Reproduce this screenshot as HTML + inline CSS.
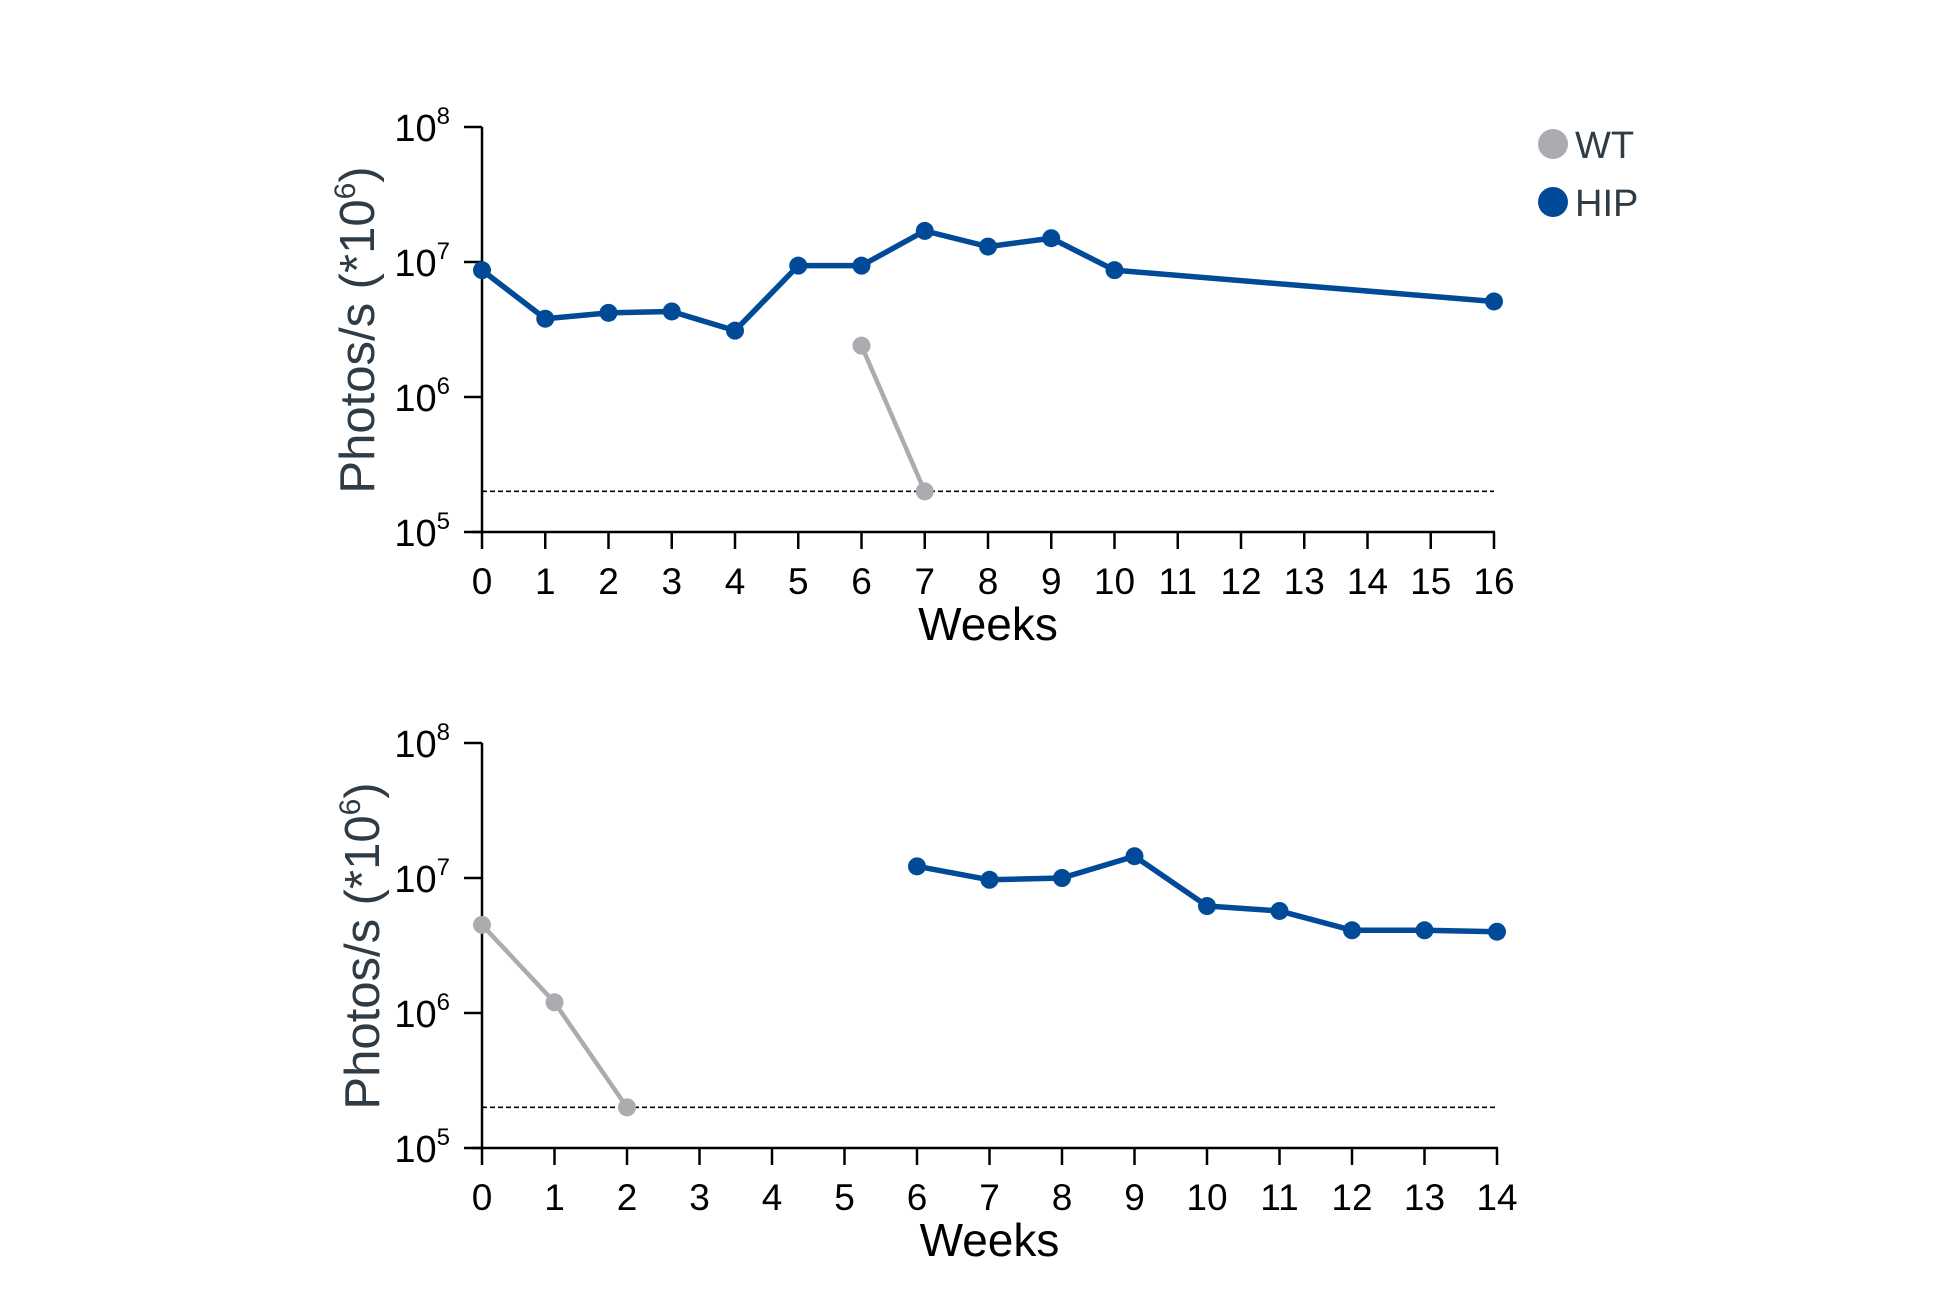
<!DOCTYPE html>
<html><head><meta charset="utf-8"><style>
body{margin:0;background:#fff;}
svg{display:block;font-family:"Liberation Sans",Arial,sans-serif;}
</style></head><body>
<svg id="s" width="1951" height="1313" viewBox="0 0 1951 1313">
<g id="top"></g>
<g id="bot"></g>
<g>
<g><circle cx="1553" cy="144" r="15" fill="#ababb0"/><text x="1575" y="158" font-size="38" fill="#2f3b45">WT</text></g>
<g><circle cx="1553" cy="202" r="15" fill="#004a97"/><text x="1575" y="216" font-size="38" fill="#2f3b45">HIP</text></g>
</g>
</svg>
<script>
const NS='http://www.w3.org/2000/svg';
// top panel data
const topTickLabels=['0','1','2','3','4','5','6','7','8','9','10','11','12','13','14','15','16'];
const topHipX=[0,1,2,3,4,5,6,7,8,9,10,16];
const topHipY=[8.7e6,3.8e6,4.2e6,4.3e6,3.1e6,9.4e6,9.4e6,1.7e7,1.3e7,1.5e7,8.7e6,5.1e6];
const topWtX=[6,7];
const topWtY=[2.4e6,2e5];
// bottom panel data
const botTickLabels=['0','1','2','3','4','5','6','7','8','9','10','11','12','13','14'];
const botHipX=[6,7,8,9,10,11,12,13,14];
const botHipY=[1.22e7,9.7e6,1.0e7,1.45e7,6.2e6,5.7e6,4.1e6,4.1e6,4.0e6];
const botWtX=[0,1,2];
const botWtY=[4.5e6,1.2e6,2e5];
const detectionLimit=2e5;
const yExps=[5,6,7,8];

function el(p,tag,attrs,txt){const e=document.createElementNS(NS,tag);for(const k in attrs)e.setAttribute(k,attrs[k]);if(txt!==undefined)e.textContent=txt;p.appendChild(e);return e;}

function panel(g,cfg){
  const x=i=>cfg.x0+i*(cfg.x1-cfg.x0)/(cfg.labels.length-1);
  const y=v=>cfg.yb-(Math.log10(v)-5)*(cfg.yb-cfg.yt)/3;
  const ya=el(g,'line',{x1:cfg.x0,y1:cfg.yt,x2:cfg.x0,y2:cfg.yb,stroke:'#000','stroke-width':2.5});
  
  const xa=el(g,'line',{x1:cfg.x0-10,y1:cfg.yb,x2:cfg.x1+1,y2:cfg.yb,stroke:'#000','stroke-width':2.5});
  
  yExps.forEach(e=>{
    const yy=y(Math.pow(10,e));
    el(g,'line',{x1:cfg.x0-18,y1:yy,x2:cfg.x0,y2:yy,stroke:'#000','stroke-width':2.5});
    const t=el(g,'text',{x:cfg.x0-32,y:yy+14,'font-size':38,'text-anchor':'end',fill:'#000'});
    
    el(t,'tspan',{},'10');el(t,'tspan',{'font-size':24,dy:-17},String(e));
  });
  cfg.labels.forEach((l,i)=>{
    const xx=x(i);
    el(g,'line',{x1:xx,y1:cfg.yb,x2:xx,y2:cfg.yb+17,stroke:'#000','stroke-width':2.5});
    const t=el(g,'text',{x:xx,y:cfg.yb+62,'font-size':37,'text-anchor':'middle',fill:'#000'},l);
    
  });
  const xt=el(g,'text',{x:cfg.x0+(cfg.x1-cfg.x0)*0.5,y:cfg.yb+108,'font-size':46,'text-anchor':'middle',fill:'#000'},'Weeks');
  
  const yt=el(g,'text',{transform:`translate(${cfg.ylx},${cfg.yly}) rotate(-90)`,'font-size':49,'text-anchor':'middle',fill:'#2f3b45'});
  
  el(yt,'tspan',{},'Photos/s (*10');el(yt,'tspan',{'font-size':30,dy:-19},'6');el(yt,'tspan',{dy:19},')');
  const dl=el(g,'line',{x1:cfg.x0,y1:y(detectionLimit),x2:cfg.x1,y2:y(detectionLimit),stroke:'#000','stroke-width':1.6,'stroke-dasharray':'5,3'});
  
  [[cfg.wx,cfg.wy,'#ababb0',4.5,'wt'],[cfg.hx,cfg.hy,'#004a97',5.5,'hip']].forEach(([xs,ys,c,w,n])=>{
    const pts=xs.map((v,i)=>x(v)+','+y(ys[i])).join(' ');
    const pl=el(g,'polyline',{points:pts,fill:'none',stroke:c,'stroke-width':w,'stroke-linejoin':'round'});
    
    xs.forEach((v,i)=>{
      const m=el(g,'circle',{cx:x(v),cy:y(ys[i]),r:9,fill:c});
      
    });
  });
}
panel(document.getElementById('top'),{x0:482,x1:1494,yt:127,yb:532,labels:topTickLabels,hx:topHipX,hy:topHipY,wx:topWtX,wy:topWtY,ylx:374,yly:330});
panel(document.getElementById('bot'),{x0:482,x1:1497,yt:743,yb:1148,labels:botTickLabels,hx:botHipX,hy:botHipY,wx:botWtX,wy:botWtY,ylx:379,yly:946});
</script>
</body></html>
